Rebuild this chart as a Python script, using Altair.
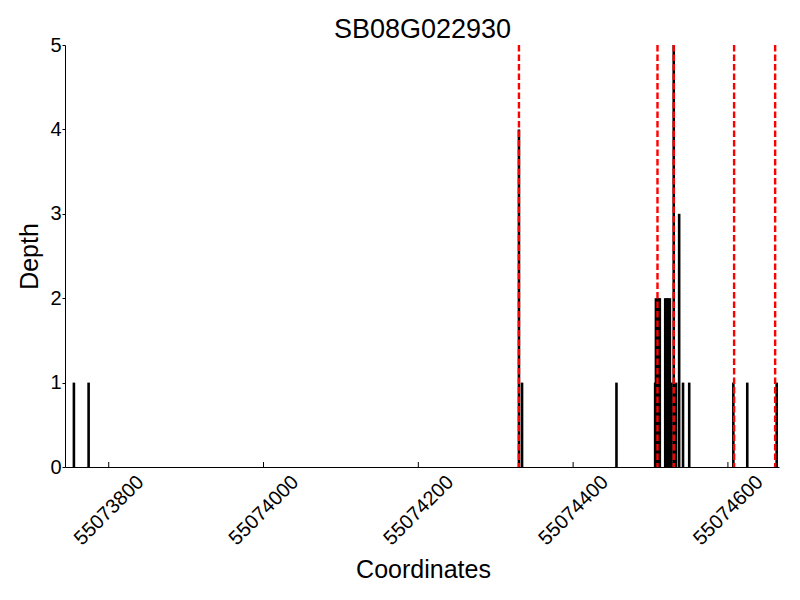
import altair as alt
import pandas as pd

# Read depth values
positions = [55073755, 55073774, 55074330, 55074334, 55074456,
             55074506, 55074507, 55074509, 55074511, 55074512,
             55074519, 55074521, 55074523, 55074525, 55074527,
             55074530, 55074533, 55074537, 55074542, 55074550,
             55074607, 55074625, 55074663]
depths = [1, 1, 4, 1, 1,
          1, 2, 2, 2, 2,
          2, 2, 2, 2, 1,
          5, 1, 3, 1, 1,
          1, 1, 1]

# Red dashed marker positions
marker_positions = [55074330, 55074509, 55074530, 55074608, 55074661]

# Axis ticks
x_ticks = [55073800, 55074000, 55074200, 55074400, 55074600]
y_ticks = [0, 1, 2, 3, 4, 5]
x_domain = [55073743.5, 55074666]
y_domain = [0, 5]
title_text = "SB08G022930"

FONT = "Liberation Sans"
W, H = 714, 422

bars_df = pd.DataFrame({"pos": positions, "depth": depths})
marks_df = pd.DataFrame({"pos": marker_positions})
ticks_df = pd.DataFrame({"pos": x_ticks})

x_axis = alt.Axis(
    values=x_ticks, format="d", title="Coordinates", grid=False,
    labelAngle=315, labelAlign="center", labelBaseline="middle",
    labelPadding=43, tickSize=0, ticks=False,
    labelFontSize=20, labelFont=FONT, labelColor="black",
    titleFontSize=25, titleFont=FONT, titleFontWeight="normal", titleColor="black",
    titleBaseline="alphabetic", titleY=110, titleX=W / 2 + 1,
    domainColor="black", domainWidth=1,
)
x_enc = alt.X("pos:Q", scale=alt.Scale(domain=x_domain, nice=False, zero=False), axis=x_axis)

y_axis = alt.Axis(
    values=y_ticks, format="d", title="Depth", grid=False,
    tickSize=3, tickColor="black", labelPadding=1,
    labelFontSize=20, labelFont=FONT, labelColor="black",
    titleFontSize=25, titleFont=FONT, titleFontWeight="normal", titleColor="black",
    titleBaseline="alphabetic", titleX=-28, titleY=H / 2, titleAngle=270,
    domainColor="black", domainWidth=1,
)

bars = alt.Chart(bars_df).mark_rule(color="black", strokeWidth=2.6).encode(
    x=x_enc,
    y=alt.Y("depth:Q", scale=alt.Scale(domain=y_domain, nice=False), axis=y_axis),
    y2=alt.datum(0),
)

ticks = alt.Chart(ticks_df).mark_rule(color="black", strokeWidth=1).encode(
    x=x_enc,
    y=alt.value(H),
    y2=alt.value(H - 5),
)

markers = alt.Chart(marks_df).mark_rule(
    color="#ff0000", strokeWidth=2.4, strokeDash=[6.5, 3]
).encode(x=x_enc)

title = alt.Chart(pd.DataFrame({"t": [title_text]})).mark_text(
    font=FONT, fontSize=27, color="black", align="center", baseline="alphabetic"
).encode(
    x=alt.value(W / 2 + 0.5),
    y=alt.value(-7),
    text="t:N",
)

chart = alt.layer(bars, ticks, markers, title).properties(
    width=W,
    height=H,
    autosize=alt.AutoSizeParams(type="none"),
    padding={"left": 57, "top": 37, "right": 12, "bottom": 120},
).configure(background="white").configure_view(strokeWidth=0, stroke=None)

chart.save("out.html", embed_options={"renderer": "svg", "actions": False})
